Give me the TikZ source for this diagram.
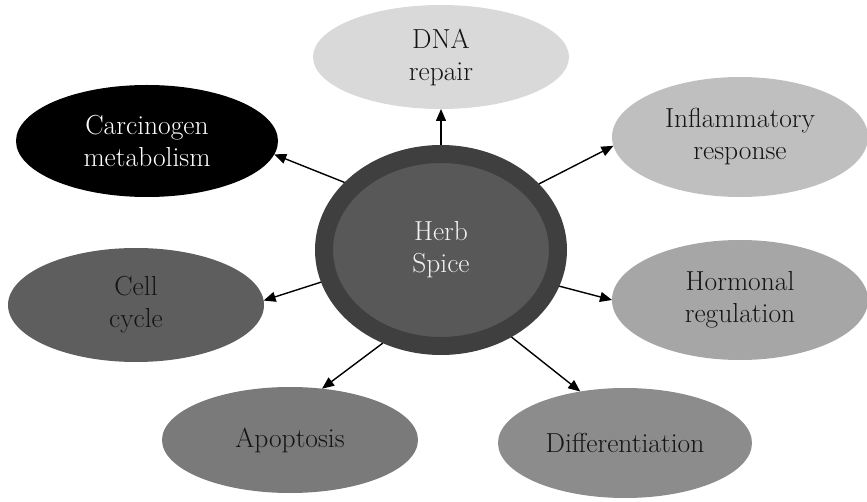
\documentclass[tikz,border=0pt]{standalone}
\usetikzlibrary{shapes.geometric,arrows.meta}
\definecolor{dnacol}{HTML}{D9D9D9}
\definecolor{inflcol}{HTML}{BFBFBF}
\definecolor{hormcol}{HTML}{A6A6A6}
\definecolor{diffcol}{HTML}{8C8C8C}
\definecolor{apopcol}{HTML}{7A7A7A}
\definecolor{cellcol}{HTML}{5E5E5E}
\definecolor{ringcol}{HTML}{3F3F3F}
\definecolor{corecol}{HTML}{585858}
\definecolor{txtdark}{HTML}{141414}
\tikzset{
  topic/.style={ellipse, inner sep=0pt, outer sep=0pt, align=center,
    text=txtdark, font=\fontsize{27.5}{32}\selectfont,
    minimum width=256pt, minimum height=#1},
  topic/.default=110pt,
  hub/.style={ellipse, inner sep=0pt, align=center, draw=ringcol, fill=corecol,
    line width=18pt, minimum width=234pt, minimum height=192pt,
    text=white!95!black, font=\fontsize{27.5}{32}\selectfont},
  link/.style={line width=1.4pt, -{Triangle[length=12pt,width=10pt]}}
}
\begin{document}
\begin{tikzpicture}[x=1pt,y=1pt]
\useasboundingbox (0,0) rectangle (867,501);
\node[hub] (hub) at (441,251) {Herb\\Spice};
\node[topic=104pt, fill=dnacol] (dna) at (441,444) {DNA\\repair};
\node[topic=112pt, fill=black, text=white, minimum width=262pt] (carc) at (147,360) {Carcinogen\\metabolism};
\node[topic=120pt, fill=inflcol] (infl) at (740,364) {Inflammatory\\response};
\node[topic=114pt, fill=cellcol] (cell) at (136,196) {Cell\\cycle};
\node[topic=120pt, fill=hormcol] (horm) at (740,201) {Hormonal\\regulation};
\node[topic=106pt, fill=apopcol] (apop) at (290,61) {Apoptosis};
\node[topic=110pt, fill=diffcol, minimum width=254pt] (diff) at (625,58) {Differentiation};
\draw[link] (hub.90) -- (dna.south);
\draw[link] (hub.145) -- (carc.-6);
\draw[link] (hub.34.5) -- (infl.184);
\draw[link] (hub.-17.7) -- (horm.west);
\draw[link] (hub.195) -- (cell.2);
\draw[link] (hub.238.6) -- (apop.58);
\draw[link] (hub.-51.9) -- (diff.131.6);
\end{tikzpicture}
\end{document}
